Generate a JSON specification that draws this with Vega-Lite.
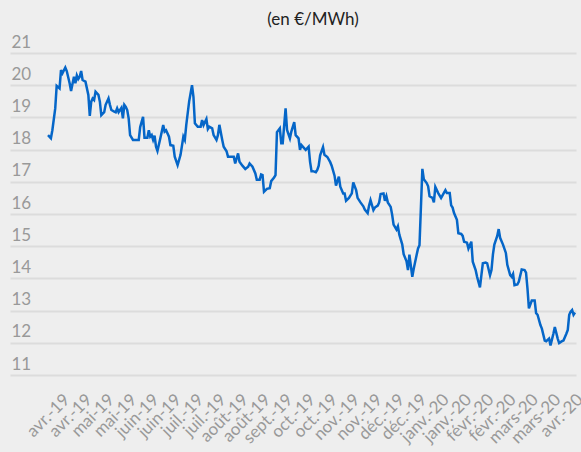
{
 "$schema": "https://vega.github.io/schema/vega-lite/v6.json",
 "width": 566,
 "height": 322,
 "autosize": "none",
 "padding": {"left": 10, "top": 53, "right": 5, "bottom": 77},
 "background": "#eeeeee",
 "config": {"view": {"stroke": null}, "font": "Lato"},
 "title": {"text": "(en €/MWh)", "fontSize": 17, "fontWeight": "normal", "color": "#222222", "font": "Lato", "anchor": "middle", "dx": 20, "offset": 4},
 "data": {"values": [
{"date":"2019-04-01","price":18.45},{"date":"2019-04-03","price":18.35},{"date":"2019-04-04","price":18.6},{"date":"2019-04-06","price":19.28},{"date":"2019-04-07","price":19.98},{"date":"2019-04-09","price":19.9},{"date":"2019-04-10","price":20.47},{"date":"2019-04-11","price":20.37},{"date":"2019-04-13","price":20.55},{"date":"2019-04-14","price":20.44},{"date":"2019-04-16","price":20.06},{"date":"2019-04-17","price":19.82},{"date":"2019-04-19","price":20.26},{"date":"2019-04-20","price":20.06},{"date":"2019-04-21","price":20.3},{"date":"2019-04-22","price":20.19},{"date":"2019-04-23","price":20.26},{"date":"2019-04-24","price":20.44},{"date":"2019-04-25","price":20.16},{"date":"2019-04-27","price":20.11},{"date":"2019-04-29","price":19.7},{"date":"2019-04-30","price":19.05},
{"date":"2019-05-01","price":19.49},{"date":"2019-05-02","price":19.59},{"date":"2019-05-03","price":19.54},{"date":"2019-05-04","price":19.8},{"date":"2019-05-06","price":19.7},{"date":"2019-05-07","price":19.49},{"date":"2019-05-08","price":19.07},{"date":"2019-05-10","price":19.16},{"date":"2019-05-11","price":19.39},{"date":"2019-05-13","price":19.59},{"date":"2019-05-14","price":19.39},{"date":"2019-05-15","price":19.23},{"date":"2019-05-17","price":19.18},{"date":"2019-05-18","price":19.16},{"date":"2019-05-19","price":19.28},{"date":"2019-05-20","price":19.16},{"date":"2019-05-22","price":19.3},{"date":"2019-05-23","price":18.97},{"date":"2019-05-24","price":19.39},{"date":"2019-05-25","price":19.33},{"date":"2019-05-26","price":19.23},{"date":"2019-05-27","price":18.97},{"date":"2019-05-28","price":18.45},{"date":"2019-05-30","price":18.3},
{"date":"2019-06-02","price":18.3},{"date":"2019-06-03","price":18.3},{"date":"2019-06-04","price":18.7},{"date":"2019-06-06","price":19.02},{"date":"2019-06-07","price":18.37},{"date":"2019-06-09","price":18.37},{"date":"2019-06-10","price":18.6},{"date":"2019-06-11","price":18.4},{"date":"2019-06-12","price":18.45},{"date":"2019-06-13","price":18.3},{"date":"2019-06-14","price":18.43},{"date":"2019-06-15","price":18.09},{"date":"2019-06-16","price":17.96},{"date":"2019-06-18","price":18.35},{"date":"2019-06-20","price":18.76},{"date":"2019-06-21","price":18.56},{"date":"2019-06-22","price":18.6},{"date":"2019-06-24","price":18.4},{"date":"2019-06-25","price":18.14},{"date":"2019-06-27","price":18.12},{"date":"2019-06-28","price":17.78},{"date":"2019-06-30","price":17.52},
{"date":"2019-07-02","price":17.83},{"date":"2019-07-04","price":18.4},{"date":"2019-07-05","price":18.3},{"date":"2019-07-06","price":18.76},{"date":"2019-07-08","price":19.49},{"date":"2019-07-10","price":20.0},{"date":"2019-07-11","price":19.64},{"date":"2019-07-12","price":18.82},{"date":"2019-07-14","price":18.71},{"date":"2019-07-16","price":18.71},{"date":"2019-07-17","price":18.92},{"date":"2019-07-18","price":18.76},{"date":"2019-07-20","price":18.95},{"date":"2019-07-21","price":18.64},{"date":"2019-07-22","price":18.71},{"date":"2019-07-24","price":18.66},{"date":"2019-07-25","price":18.45},{"date":"2019-07-27","price":18.3},{"date":"2019-07-28","price":18.45},{"date":"2019-07-29","price":18.77},{"date":"2019-07-31","price":18.3},
{"date":"2019-08-01","price":18.09},{"date":"2019-08-03","price":17.95},{"date":"2019-08-04","price":17.78},{"date":"2019-08-07","price":17.78},{"date":"2019-08-08","price":17.78},{"date":"2019-08-09","price":17.57},{"date":"2019-08-11","price":17.88},{"date":"2019-08-12","price":17.62},{"date":"2019-08-14","price":17.5},{"date":"2019-08-16","price":17.4},{"date":"2019-08-18","price":17.47},{"date":"2019-08-19","price":17.57},{"date":"2019-08-21","price":17.47},{"date":"2019-08-23","price":17.26},{"date":"2019-08-24","price":17.06},{"date":"2019-08-26","price":17.06},{"date":"2019-08-27","price":17.23},{"date":"2019-08-28","price":17.21},{"date":"2019-08-29","price":16.69},{"date":"2019-08-31","price":16.78},
{"date":"2019-09-02","price":16.8},{"date":"2019-09-03","price":17.02},{"date":"2019-09-05","price":17.13},{"date":"2019-09-06","price":17.21},{"date":"2019-09-07","price":18.54},{"date":"2019-09-09","price":18.66},{"date":"2019-09-10","price":18.2},{"date":"2019-09-11","price":18.2},{"date":"2019-09-13","price":19.28},{"date":"2019-09-14","price":18.61},{"date":"2019-09-16","price":18.35},{"date":"2019-09-17","price":18.56},{"date":"2019-09-19","price":18.85},{"date":"2019-09-20","price":18.45},{"date":"2019-09-22","price":18.35},{"date":"2019-09-23","price":17.99},{"date":"2019-09-24","price":18.14},{"date":"2019-09-26","price":18.04},{"date":"2019-09-27","price":17.99},{"date":"2019-09-29","price":18.09},{"date":"2019-09-30","price":17.62},
{"date":"2019-10-01","price":17.33},{"date":"2019-10-02","price":17.33},{"date":"2019-10-04","price":17.3},{"date":"2019-10-05","price":17.37},{"date":"2019-10-06","price":17.5},{"date":"2019-10-07","price":17.82},{"date":"2019-10-09","price":18.08},{"date":"2019-10-10","price":17.84},{"date":"2019-10-12","price":17.77},{"date":"2019-10-14","price":17.61},{"date":"2019-10-15","price":17.5},{"date":"2019-10-17","price":17.19},{"date":"2019-10-18","price":16.88},{"date":"2019-10-20","price":17.16},{"date":"2019-10-21","price":16.85},{"date":"2019-10-23","price":16.64},{"date":"2019-10-24","price":16.64},{"date":"2019-10-25","price":16.41},{"date":"2019-10-27","price":16.5},{"date":"2019-10-29","price":16.64},{"date":"2019-10-30","price":16.98},
{"date":"2019-11-01","price":16.74},{"date":"2019-11-02","price":16.5},{"date":"2019-11-04","price":16.36},{"date":"2019-11-06","price":16.24},{"date":"2019-11-07","price":16.14},{"date":"2019-11-09","price":16.03},{"date":"2019-11-10","price":16.26},{"date":"2019-11-11","price":16.43},{"date":"2019-11-13","price":16.12},{"date":"2019-11-14","price":16.2},{"date":"2019-11-16","price":16.26},{"date":"2019-11-17","price":16.36},{"date":"2019-11-18","price":16.62},{"date":"2019-11-20","price":16.64},{"date":"2019-11-21","price":16.41},{"date":"2019-11-22","price":16.55},{"date":"2019-11-23","price":16.36},{"date":"2019-11-25","price":16.22},{"date":"2019-11-26","price":15.98},{"date":"2019-11-27","price":15.67},{"date":"2019-11-29","price":15.52},{"date":"2019-11-30","price":15.62},
{"date":"2019-12-01","price":15.36},{"date":"2019-12-03","price":15.06},{"date":"2019-12-04","price":14.75},{"date":"2019-12-06","price":14.53},{"date":"2019-12-07","price":14.26},{"date":"2019-12-08","price":14.74},{"date":"2019-12-10","price":14.05},{"date":"2019-12-11","price":14.3},{"date":"2019-12-13","price":14.73},{"date":"2019-12-14","price":14.93},{"date":"2019-12-15","price":15.03},{"date":"2019-12-17","price":17.4},{"date":"2019-12-18","price":17.08},{"date":"2019-12-20","price":16.96},{"date":"2019-12-21","price":16.86},{"date":"2019-12-22","price":16.55},{"date":"2019-12-24","price":16.5},{"date":"2019-12-25","price":16.36},{"date":"2019-12-26","price":16.84},{"date":"2019-12-28","price":16.65},{"date":"2019-12-30","price":16.5},{"date":"2019-12-31","price":16.58},
{"date":"2020-01-02","price":16.74},{"date":"2020-01-03","price":16.65},{"date":"2020-01-05","price":16.65},{"date":"2020-01-06","price":16.27},{"date":"2020-01-07","price":16.2},{"date":"2020-01-08","price":16.03},{"date":"2020-01-10","price":15.82},{"date":"2020-01-11","price":15.4},{"date":"2020-01-13","price":15.38},{"date":"2020-01-14","price":15.32},{"date":"2020-01-15","price":15.14},{"date":"2020-01-17","price":15.11},{"date":"2020-01-18","price":14.93},{"date":"2020-01-20","price":15.14},{"date":"2020-01-21","price":14.52},{"date":"2020-01-23","price":14.26},{"date":"2020-01-24","price":14.05},{"date":"2020-01-26","price":13.72},{"date":"2020-01-27","price":14.1},{"date":"2020-01-28","price":14.47},{"date":"2020-01-30","price":14.49},{"date":"2020-01-31","price":14.47},
{"date":"2020-02-02","price":14.1},{"date":"2020-02-03","price":14.26},{"date":"2020-02-04","price":14.74},{"date":"2020-02-05","price":15.05},{"date":"2020-02-07","price":15.32},{"date":"2020-02-08","price":15.53},{"date":"2020-02-09","price":15.26},{"date":"2020-02-11","price":15.05},{"date":"2020-02-13","price":14.79},{"date":"2020-02-14","price":14.42},{"date":"2020-02-16","price":14.1},{"date":"2020-02-17","price":14.05},{"date":"2020-02-18","price":14.14},{"date":"2020-02-19","price":13.79},{"date":"2020-02-21","price":13.81},{"date":"2020-02-22","price":13.9},{"date":"2020-02-24","price":14.28},{"date":"2020-02-26","price":14.26},{"date":"2020-02-27","price":14.18},{"date":"2020-02-28","price":13.69},{"date":"2020-02-29","price":13.07},
{"date":"2020-03-02","price":13.31},{"date":"2020-03-04","price":13.31},{"date":"2020-03-05","price":12.92},{"date":"2020-03-06","price":12.87},{"date":"2020-03-08","price":12.55},{"date":"2020-03-09","price":12.44},{"date":"2020-03-11","price":12.07},{"date":"2020-03-12","price":12.05},{"date":"2020-03-14","price":12.13},{"date":"2020-03-15","price":11.92},{"date":"2020-03-17","price":12.28},{"date":"2020-03-18","price":12.49},{"date":"2020-03-20","price":12.13},{"date":"2020-03-21","price":11.99},{"date":"2020-03-23","price":12.05},{"date":"2020-03-24","price":12.07},{"date":"2020-03-26","price":12.28},{"date":"2020-03-27","price":12.4},{"date":"2020-03-28","price":12.87},{"date":"2020-03-29","price":12.97},{"date":"2020-03-30","price":13.02},{"date":"2020-03-31","price":12.87},{"date":"2020-04-01","price":12.94}
 ]},
 "mark": {"type": "line", "color": "#0566c8", "strokeWidth": 2.5},
 "encoding": {
  "x": {
   "field": "date", "type": "temporal",
   "scale": {"type": "utc", "domain": [{"year": 2019, "month": 3, "date": 5, "hours": 14, "utc": true}, {"year": 2020, "month": 4, "date": 1, "hours": 17, "utc": true}]},
   "axis": {
    "title": null, "domain": false, "ticks": false, "grid": false,
    "values": [1554854400000, 1556193600000, 1557532800000, 1558872000000, 1560211200000, 1561550400000, 1562889600000, 1564228800000, 1565568000000, 1566907200000, 1568246400000, 1569585600000, 1570924800000, 1572264000000, 1573603200000, 1574942400000, 1576281600000, 1577620800000, 1578960000000, 1580299200000, 1581638400000, 1582977600000, 1584316800000, 1585656000000],
    "labelExpr": "['avr.-19','avr.-19','mai-19','mai-19','juin-19','juin-19','juil.-19','juil.-19','août-19','août-19','sept.-19','oct.-19','oct.-19','nov.-19','nov.-19','déc.-19','déc.-19','janv.-20','janv.-20','févr.-20','févr.-20','mars-20','mars-20','avr.-20'][round((datum.value - 1554854400000) / 1339200000)]",
    "labelAngle": -45, "labelAlign": "right", "labelBaseline": "top",
    "labelFontSize": 17, "labelColor": "#999999", "labelFont": "Lato",
    "labelPadding": 16, "labelOverlap": false, "labelBound": false, "labelFlush": false
   }
  },
  "y": {
   "field": "price", "type": "quantitative",
   "scale": {"domain": [11, 21], "nice": false, "zero": false},
   "axis": {
    "title": null, "domain": false, "ticks": false, "grid": true,
    "values": [11, 12, 13, 14, 15, 16, 17, 18, 19, 20, 21],
    "gridColor": "#dcdcdc", "gridWidth": 2,
    "labelAlign": "left", "labelBaseline": "alphabetic", "labelPadding": -1, "labelOffset": -6,
    "labelFontSize": 17, "labelColor": "#999999", "labelFont": "Lato"
   }
  }
 }
}
